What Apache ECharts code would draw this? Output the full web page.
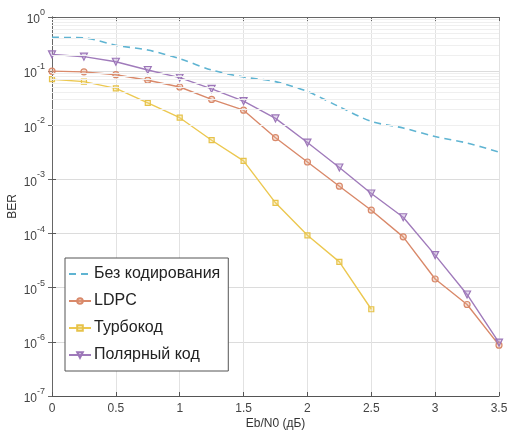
<!DOCTYPE html>
<html>
<head>
<meta charset="utf-8">
<script src="https://cdn.jsdelivr.net/npm/echarts@6/dist/echarts.min.js"></script>
<style>
  html, body { margin: 0; padding: 0; background: #fff; }
  #chart { width: 509px; height: 434px; }
</style>
</head>
<body>
<div id="chart"></div>
<script>
// Eb/N0 values, dB
const ebn0 = [0, 0.25, 0.5, 0.75, 1, 1.25, 1.5, 1.75, 2, 2.25, 2.5, 2.75, 3, 3.25, 3.5];

const berUncoded = [0.42, 0.41, 0.30, 0.245, 0.17, 0.105, 0.078, 0.064, 0.042, 0.022, 0.0118, 0.0089, 0.0062, 0.0047, 0.0032];
const berLdpc = [0.1, 0.097, 0.086, 0.068, 0.051, 0.030, 0.019, 0.0059, 0.0021, 0.00075, 0.00027, 0.000087, 0.0000145, 0.0000049, 0.00000087];
const berTurbo = [0.071, 0.064, 0.048, 0.026, 0.0138, 0.0053, 0.0022, 0.00037, 0.000093, 0.00003, 0.000004];
const berPolar = [0.204, 0.185, 0.149, 0.105, 0.076, 0.047, 0.028, 0.0134, 0.0048, 0.00166, 0.00055, 0.0002, 0.00004, 0.0000075, 0.00000097];

const seriesNames = ['Без кодирования', 'LDPC', 'Турбокод', 'Полярный код'];

// minor grid lines of the log axis: 2..9 in every decade
const decades = [-7, -6, -5, -4, -3, -2, -1];
const minorSteps = [2, 3, 4, 5, 6, 7, 8, 9];

const font = 'Liberation Sans, Arial, sans-serif';

const pairs = (ys) => ys.map((y, i) => [ebn0[i], y]);

const minorLines = [];
decades.forEach(d => minorSteps.forEach(k => minorLines.push({ yAxis: k * Math.pow(10, d) })));

const chart = echarts.init(document.getElementById('chart'));

chart.setOption({
    animation: false,
    textStyle: { fontFamily: font },
    grid: { left: 52, right: 10, top: 17, bottom: 38, outerBoundsMode: 'none', containLabel: false },
    legend: {
        orient: 'vertical',
        left: 65,
        top: 258,
        padding: [8, 8, 8, 3],
        itemWidth: 22,
        itemHeight: 7,
        itemGap: 11,
        backgroundColor: '#fff',
        borderColor: '#555',
        borderWidth: 1,
        textStyle: { fontSize: 16, color: '#222', fontFamily: font, padding: [0, 0, 0, -2] },
        data: [
            { name: seriesNames[0], itemStyle: { opacity: 0 } },
            seriesNames[1],
            seriesNames[2],
            seriesNames[3]
        ]
    },
    xAxis: [{
        type: 'value',
        min: 0,
        max: 3.5,
        interval: 0.5,
        name: 'Eb/N0 (дБ)',
        nameLocation: 'middle',
        nameGap: 22,
        nameMoveOverlap: false,
        nameTextStyle: { fontSize: 12, color: '#333' },
        axisLine: { lineStyle: { color: '#555' } },
        axisTick: { inside: true, length: 4, lineStyle: { color: '#555' } },
        axisLabel: { fontSize: 12, color: '#444', margin: 7 },
        splitLine: { show: true, lineStyle: { color: '#e2e2e2' } }
    }, {
        type: 'value',
        position: 'top',
        min: 0,
        max: 3.5,
        interval: 0.5,
        axisLine: { lineStyle: { color: '#666' } },
        axisTick: { inside: true, length: 4, lineStyle: { color: '#666' } },
        axisLabel: { show: false },
        splitLine: { show: false }
    }],
    yAxis: [{
        type: 'log',
        logBase: 10,
        min: 1e-7,
        max: 1,
        splitNumber: 7,
        name: 'BER',
        nameLocation: 'middle',
        nameGap: 33,
        nameMoveOverlap: false,
        nameTextStyle: { fontSize: 12, color: '#333' },
        axisLine: { show: true, lineStyle: { color: '#555' } },
        axisTick: { show: true, inside: true, length: 4, lineStyle: { color: '#555' } },
        axisLabel: {
            margin: 7,
            formatter: v => '{b|10}{s|' + Math.round(Math.log10(v)) + '}',
            rich: {
                b: { fontSize: 12, color: '#444', fontFamily: font, verticalAlign: 'bottom', lineHeight: 18 },
                s: { fontSize: 9, color: '#444', fontFamily: font, verticalAlign: 'top', lineHeight: 18 }
            }
        },
        splitLine: { show: true, lineStyle: { color: '#dcdcdc' } }
    }, {
        type: 'log',
        logBase: 10,
        position: 'right',
        min: 1e-7,
        max: 1,
        splitNumber: 7,
        axisLine: { show: true, lineStyle: { color: '#666' } },
        axisTick: { show: true, inside: true, length: 4, lineStyle: { color: '#666' } },
        axisLabel: { show: false },
        splitLine: { show: false }
    }],
    series: [
        {
            type: 'line',
            silent: true,
            data: [],
            z: 0,
            markLine: {
                silent: true,
                symbol: 'none',
                label: { show: false },
                lineStyle: { color: '#efefef', width: 1, type: 'solid' },
                data: minorLines
            }
        },
        {
            name: seriesNames[0],
            type: 'line',
            data: pairs(berUncoded),
            smooth: 0.3,
            showSymbol: false,
            symbol: 'none',
            color: '#5fb4d2',
            lineStyle: { width: 1.6, type: [7, 5] }
        },
        {
            name: seriesNames[1],
            type: 'line',
            data: pairs(berLdpc),
            symbol: 'circle',
            symbolSize: 6,
            color: '#d9896a',
            itemStyle: { color: 'rgba(230,170,140,0.35)', borderColor: '#d9896a', borderWidth: 1.2 },
            lineStyle: { width: 1.4, color: '#d9896a' }
        },
        {
            name: seriesNames[2],
            type: 'line',
            data: pairs(berTurbo),
            symbol: 'rect',
            symbolSize: 5,
            color: '#ecc850',
            itemStyle: { color: 'rgba(240,215,120,0.35)', borderColor: '#e6c24a', borderWidth: 1.2 },
            lineStyle: { width: 1.4, color: '#ecc850' }
        },
        {
            name: seriesNames[3],
            type: 'line',
            data: pairs(berPolar),
            symbol: 'triangle',
            symbolRotate: 180,
            symbolSize: 7,
            color: '#a07bbb',
            itemStyle: { color: 'rgba(180,150,205,0.35)', borderColor: '#9c76b8', borderWidth: 1.2 },
            lineStyle: { width: 1.4, color: '#a07bbb' }
        }
    ]
});
</script>
</body>
</html>
